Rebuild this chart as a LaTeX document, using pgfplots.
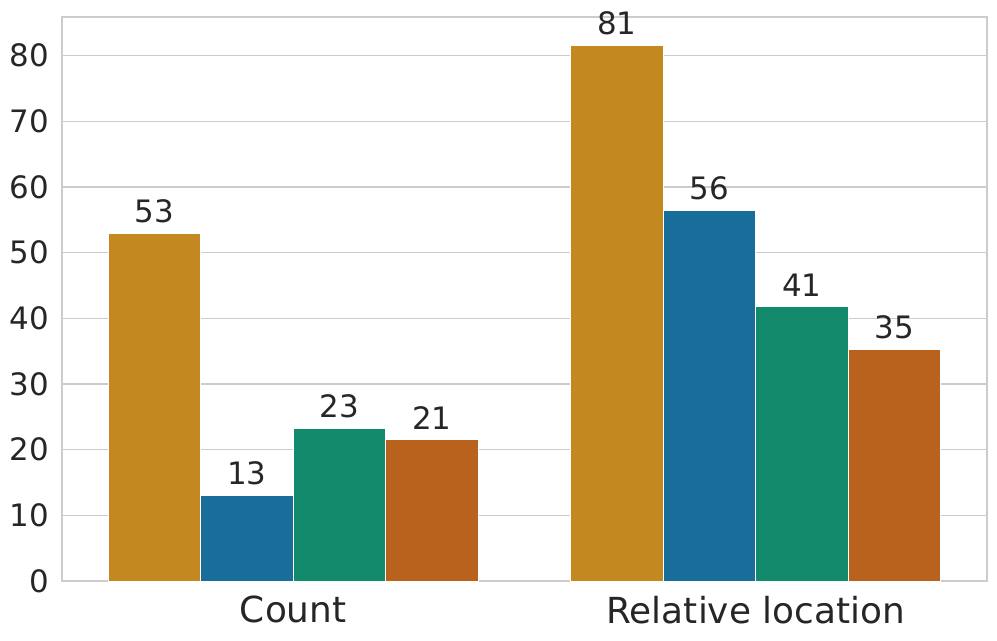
\documentclass[border=0pt]{standalone}
\usepackage{pgfplots}
\pgfplotsset{compat=1.18}
\usepackage{fontspec}
\setmainfont{DejaVu Sans}
\definecolor{cOrange}{HTML}{C38820}
\definecolor{cBlue}{HTML}{186D9A}
\definecolor{cGreen}{HTML}{148A6D}
\definecolor{cRed}{HTML}{B8621D}
\definecolor{gridgray}{HTML}{CCCCCC}
\definecolor{txt}{HTML}{262626}
\begin{document}
\begin{tikzpicture}
\path[use as bounding box] (-62bp,-60bp) rectangle (935bp,581bp);
\begin{axis}[at={(0,0)},anchor=south west,
scale only axis,width=925bp,height=564bp,
xmin=-0.5,xmax=1.5,ymin=0,ymax=85.9,
xtick={0,1},xticklabels={Count,Relative location},
ytick={0,10,20,30,40,50,60,70,80},
major tick length=0pt,
ymajorgrids,
grid style={draw=gridgray,line width=1.2bp},
axis line style={draw=gridgray,line width=1.2bp},
/pgf/number format/assume math mode=true,
yticklabel style={font=\fontsize{31}{36}\selectfont,text=txt,inner sep=0pt,xshift=-13bp},
xticklabel style={font=\fontsize{36}{42}\selectfont,text=txt,inner sep=0pt,yshift=-15bp},
ybar,bar width=0.2,bar shift=0pt,
every axis plot/.append style={draw=white,line width=1bp},
nodes near coords,
point meta=explicit symbolic,
nodes near coords style={font=\fontsize{31}{36}\selectfont,text=txt,inner sep=0pt,anchor=south,yshift=10bp},
]
% groups centred at 0 and 1, four bars of width 0.2 each
\addplot[fill=cOrange] coordinates {(-0.3,53.0) [53] (0.7,81.6) [81]};
\addplot[fill=cBlue] coordinates {(-0.1,13.0) [13] (0.9,56.5) [56]};
\addplot[fill=cGreen] coordinates {(0.1,23.3) [23] (1.1,41.8) [41]};
\addplot[fill=cRed] coordinates {(0.3,21.5) [21] (1.3,35.2) [35]};
\end{axis}
\end{tikzpicture}
\end{document}
